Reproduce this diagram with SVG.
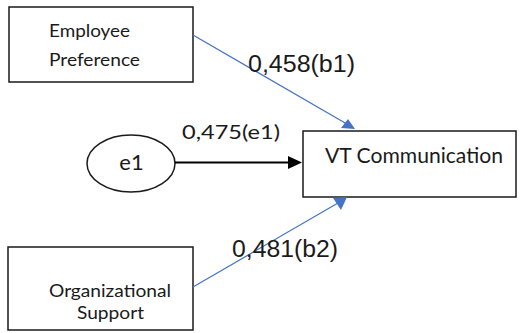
<svg xmlns="http://www.w3.org/2000/svg" width="522" height="333" viewBox="0 0 522 333">
<style>
.box{fill:#fff;stroke:#1a1a1a;stroke-width:1.5}
.lbl{font-family:Lato,"Open Sans",sans-serif;fill:#1a1a1a}
.coef{font-family:"Liberation Sans",Arial,sans-serif;fill:#1a1a1a;font-size:23px}
.blue{stroke:#4472C4;stroke-width:1.2;fill:none}
.ah{fill:#4472C4}
</style>
<rect width="522" height="333" fill="#fff"/>
<g id="employee-preference">
<rect class="box" x="9" y="7" width="184" height="75"/>
<text class="lbl" x="49" y="37" font-size="17" textLength="81" lengthAdjust="spacingAndGlyphs">Employee</text>
<text class="lbl" x="49" y="66" font-size="17" textLength="91" lengthAdjust="spacingAndGlyphs">Preference</text>
</g>
<g id="organizational-support">
<rect class="box" x="8" y="247" width="185" height="83"/>
<text class="lbl" x="49" y="297" font-size="17" textLength="122" lengthAdjust="spacingAndGlyphs">Organizational</text>
<text class="lbl" x="77" y="319" font-size="17" textLength="67" lengthAdjust="spacingAndGlyphs">Support</text>
</g>
<g id="e1">
<ellipse cx="131" cy="163.5" rx="44" ry="28.5" fill="#fff" stroke="#1a1a1a" stroke-width="1.5"/>
<text class="lbl" x="131.5" y="170" font-size="22" text-anchor="middle">e1</text>
</g>
<g id="vt-communication">
<rect class="box" x="303" y="131" width="213" height="66"/>
<text class="lbl" x="325" y="163" font-size="21" textLength="178" lengthAdjust="spacingAndGlyphs">VT Communication</text>
</g>
<g id="connectors">
<line class="blue" x1="193" y1="35" x2="346" y2="123.5"/>
<polygon class="ah" points="355,129 348,119 341,128"/>
<line class="blue" x1="193" y1="287" x2="338" y2="203"/>
<polygon class="ah" points="347,197 333,198 341,210"/>
<line x1="175" y1="162.5" x2="290" y2="162.5" stroke="#000" stroke-width="2"/>
<polygon points="302,162.5 288,156 288,169" fill="#000"/>
</g>
<g id="labels">
<text class="coef" x="248" y="72" textLength="107" lengthAdjust="spacingAndGlyphs">0,458(b1)</text>
<text class="coef" x="232" y="257" textLength="106" lengthAdjust="spacingAndGlyphs">0,481(b2)</text>
<text class="lbl" x="182" y="139" font-size="19" textLength="98" lengthAdjust="spacingAndGlyphs">0,475(e1)</text>
</g>
</svg>
